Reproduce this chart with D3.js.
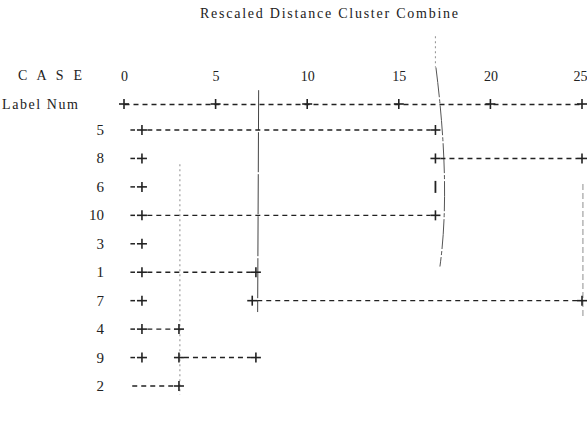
<!DOCTYPE html>
<html><head><meta charset="utf-8">
<script src="https://cdn.jsdelivr.net/npm/d3@7"></script>
<style>body{margin:0;background:#fff}svg{display:block}</style>
</head><body>
<svg id="c" width="587" height="425"></svg>
<script>
// ---- data ----
const title = "Rescaled Distance Cluster Combine";
const caseLabels = ["5","8","6","10","3","1","7","4","9","2"];
const tickValues = [0,5,10,15,20,25];
// horizontal joins: [rowIndex, fromDistance, toDistance]
const joins = [[0,1,17],[1,17,25],[3,1,17],[5,1,7.2],[6,7,25],[7,1,3],[8,3,7.2],[9,0.45,3]];
// leaf stubs: [rowIndex, fromDistance, toDistance]
const stubs = [[0,0.35,0.6],[1,0.35,0.6],[2,0.35,0.6],[3,0.35,0.6],[4,0.35,0.6],[5,0.35,0.6],[6,0.35,0.6],[7,0.35,0.6],[8,0.35,0.6]];
// plus nodes: [rowIndex, distance]
const pluses = [[0,0.98],[1,0.98],[2,0.98],[3,0.98],[4,0.98],[5,0.98],[6,0.98],[7,0.98],[8,0.98],
  [0,17],[1,17],[3,17],[5,7.2],[6,7],[7,3],[8,3],[8,7.2],[9,3],[1,25],[6,25]];
// bar characters: [rowIndex, distance]
const bars = [[2,17]];
// hand-drawn vertical connectors: [distance, rowFrom, rowTo, style]
const strokes = [[3.05,1.2,9.3,"dot"],[7.35,-1.4,6.4,"solid"],[17.3,-2.2,4.8,"curve"],[17.0,-3.3,-2.2,"dot"],[25.05,1.9,6.6,"dash"]];

// ---- drawing ----
const svg = d3.select("#c");
const font = "'Liberation Serif','DejaVu Serif',serif";
const x = d3.scaleLinear().domain([0,25]).range([124,582]);
const y = d3.scalePoint().domain(d3.range(caseLabels.length)).range([130,386]);
const step = y.step();
const yr = r => y(0) + r*step;
const ink = "#222";

svg.append("text").attr("x",329).attr("y",18).attr("text-anchor","middle")
  .attr("font-family",font).attr("font-size",14).attr("textLength",258).attr("fill",ink).text(title);
svg.append("text").attr("x",18).attr("y",80).attr("font-family",font).attr("font-size",14)
  .attr("textLength",64).attr("fill",ink).text("C A S E");
svg.append("text").attr("x",2).attr("y",109).attr("font-family",font).attr("font-size",14)
  .attr("textLength",76).attr("fill",ink).text("Label  Num");

// axis
const axisY = 104;
const g = svg.append("g").attr("transform",`translate(0,${axisY})`);
const axis = d3.axisTop(x).tickValues(tickValues).tickSize(0).tickPadding(23);
g.call(axis);
g.select(".domain").attr("stroke",ink).attr("stroke-width",1.3).attr("stroke-dasharray","5,4");
g.selectAll(".tick text").attr("font-family",font).attr("font-size",14).attr("fill",ink)
  .attr("text-anchor",(d)=> d===25 ? "end":"middle").attr("dx",(d)=>d===25?5:0);
function plus(sel,cx,cy){
  sel.append("line").attr("x1",cx-5).attr("x2",cx+5).attr("y1",cy).attr("y2",cy).attr("stroke",ink).attr("stroke-width",1.6);
  sel.append("line").attr("x1",cx).attr("x2",cx).attr("y1",cy-5).attr("y2",cy+5).attr("stroke",ink).attr("stroke-width",1.6);
}
tickValues.forEach(t=>plus(svg,x(t),axisY));

// case labels
svg.selectAll("text.case").data(caseLabels).join("text").attr("class","case")
  .attr("x",104).attr("y",(d,i)=>y(i)+5).attr("text-anchor","end")
  .attr("font-family",font).attr("font-size",15).attr("fill",ink).text(d=>d);

// hand-drawn strokes
strokes.forEach(([d,r0,r1,st])=>{
  const cx = x(d);
  if(st==="curve"){
    const p = d3.path();
    p.moveTo(cx-5,yr(r0)); p.quadraticCurveTo(cx+10,yr((r0+r1)/2)+20,cx-1,yr(r1));
    svg.append("path").attr("d",p.toString()).attr("fill","none").attr("stroke","#555").attr("stroke-width",1)
      .attr("stroke-dasharray","30,2,4,2");
  } else {
    svg.append("line").attr("x1",cx).attr("x2",cx+ (st==="solid"?-1:0)).attr("y1",yr(r0)).attr("y2",yr(r1))
      .attr("stroke", st==="solid" ? "#444" : "#999").attr("stroke-width", st==="solid"?1:1.1)
      .attr("stroke-dasharray", st==="dot" ? "2,3" : st==="dash" ? "6,3" : "40,2");
  }
});

// stubs (the leading "-" of each leaf)
const stubG = svg.append("g");
stubs.forEach(([r,d0,d1])=>stubG.append("line")
  .attr("x1",x(d0)).attr("x2",x(d1)).attr("y1",y(r)).attr("y2",y(r))
  .attr("stroke",ink).attr("stroke-width",1.5));
// joins
svg.selectAll("line.join").data(joins).join("line").attr("class","join")
  .attr("x1",d=>x(d[1])+(d[1]<0.9?0:5)).attr("x2",d=>x(d[2])-5).attr("y1",d=>y(d[0])).attr("y2",d=>y(d[0]))
  .attr("stroke",ink).attr("stroke-width",1.4).attr("stroke-dasharray","5,4");
// plus nodes
pluses.forEach(([r,d])=>plus(svg,x(d),y(r)));
// bars
bars.forEach(([r,d])=>svg.append("line").attr("x1",x(d)).attr("x2",x(d)).attr("y1",y(r)-6).attr("y2",y(r)+6)
  .attr("stroke",ink).attr("stroke-width",1.8));
</script>
</body></html>
